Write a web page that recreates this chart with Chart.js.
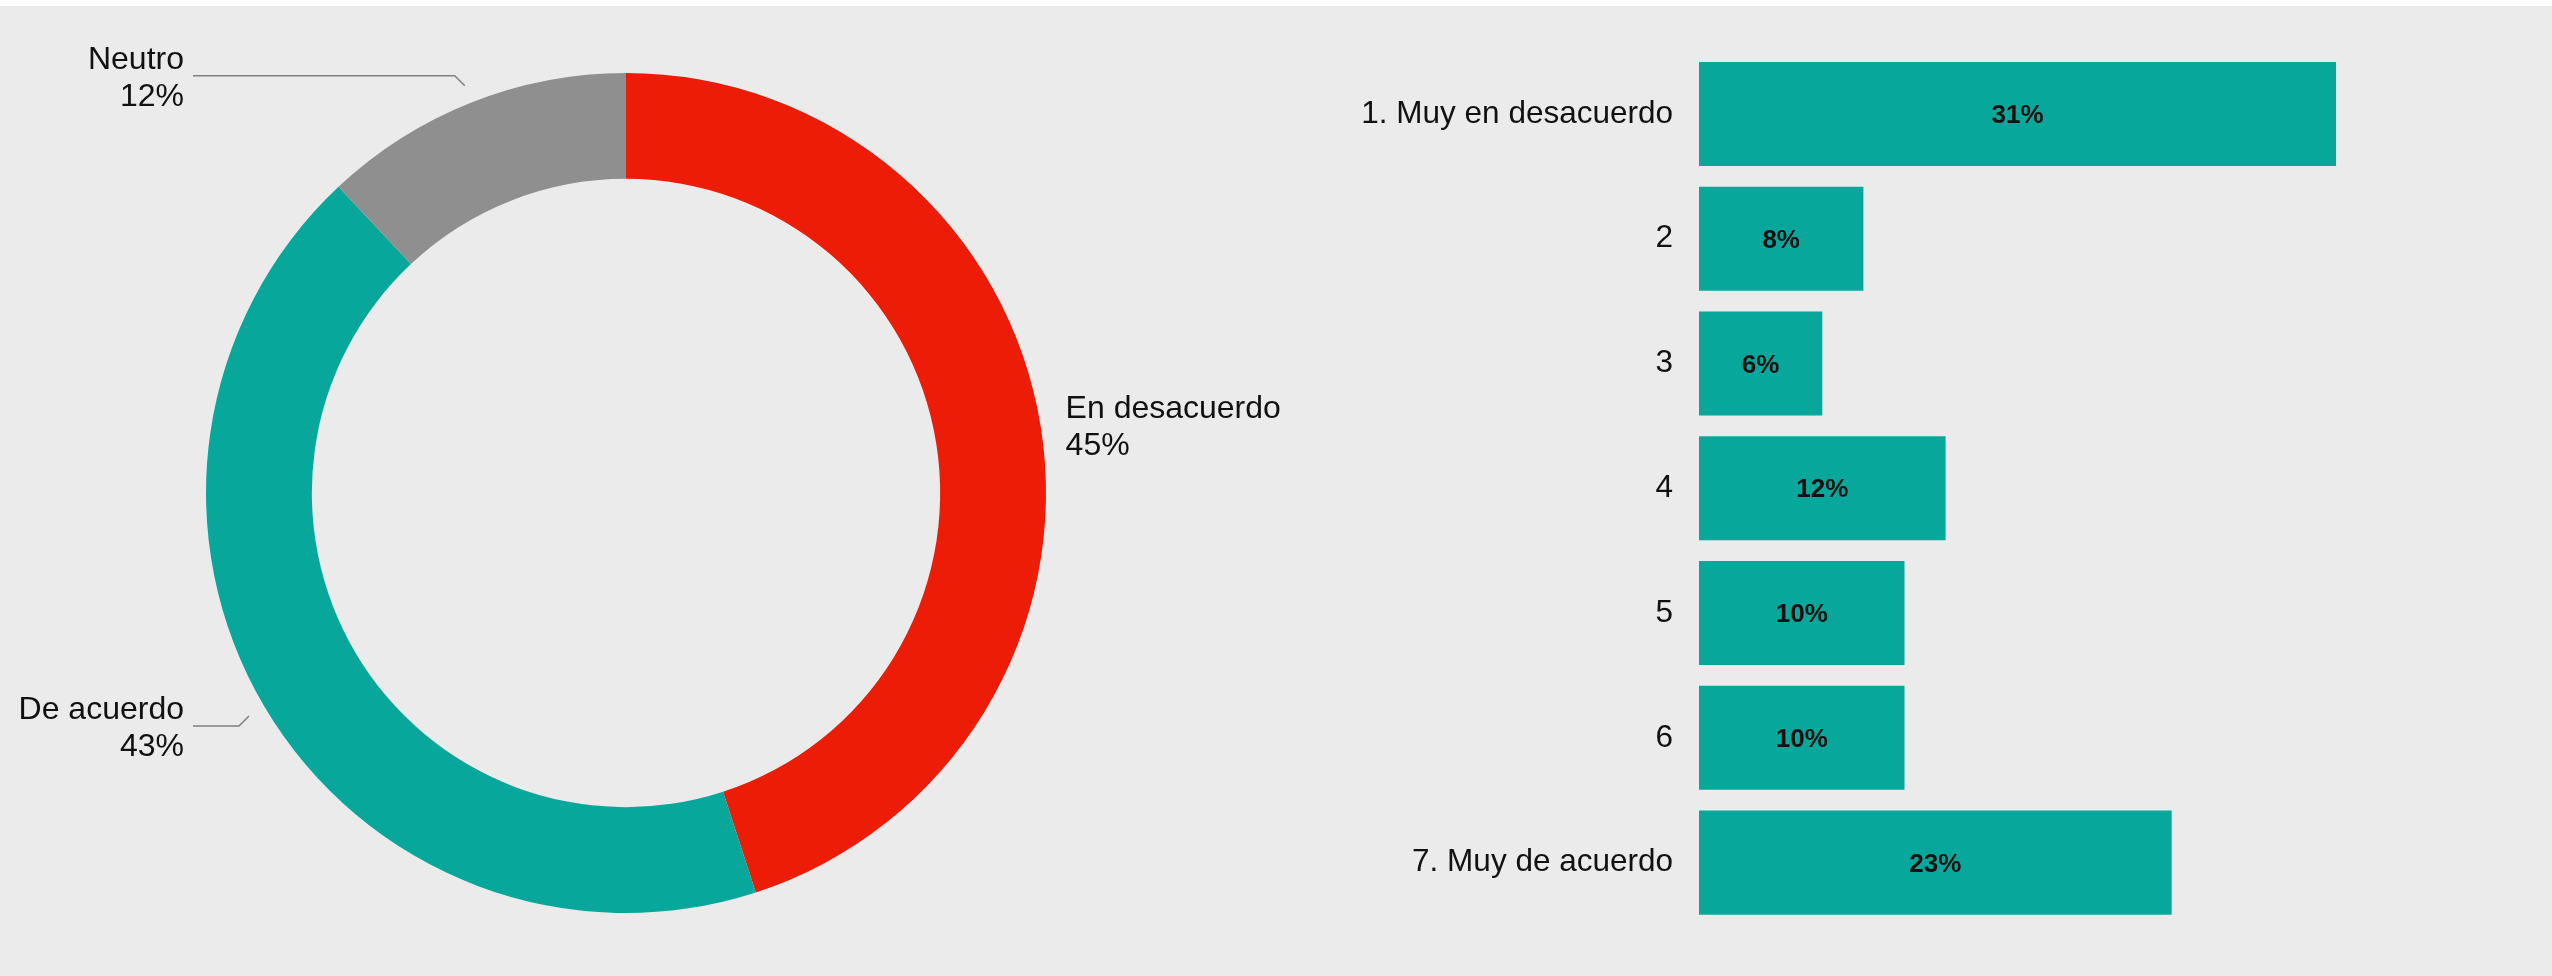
<!DOCTYPE html>
<html lang="es">
<head>
<meta charset="utf-8">
<title>Opinión</title>
<script src="https://cdn.jsdelivr.net/npm/chart.js@4.4.1/dist/chart.umd.min.js"></script>
<style>
  html, body { margin: 0; padding: 0; background: #ffffff; }
  body { width: 2552px; height: 976px; position: relative; overflow: hidden; }
  #panel { position: absolute; left: 0; top: 6px; width: 2552px; height: 970px; background: #ebebeb; }
  canvas { position: absolute; top: 0; }
  #donut { left: 0; }
  #bars { left: 1300px; }
</style>
</head>
<body>
<div id="panel"></div>
<canvas id="donut" width="1300" height="976"></canvas>
<canvas id="bars" width="1252" height="976"></canvas>
<script>
// Summary split (doughnut)
const groupLabels = ['En desacuerdo', 'De acuerdo', 'Neutro'];
const groupValues = [45, 43, 12];
const groupColors = ['#ec1c07', '#07a89b', '#8f8f8f'];

// Full 7-point scale (horizontal bars)
const scaleLabels = ['1. Muy en desacuerdo', '2', '3', '4', '5', '6', '7. Muy de acuerdo'];
const scaleValues = [31, 8, 6, 12, 10, 10, 23];
const barColor = '#07a89b';

const FONT = "'Liberation Sans', Arial, Helvetica, sans-serif";
const TEXT = '#111111';

// Slice labels with elbow leader lines on the left side
const sliceLabels = {
  id: 'sliceLabels',
  afterDatasetsDraw(chart) {
    const ctx = chart.ctx;
    const meta = chart.getDatasetMeta(0);
    const values = chart.data.datasets[0].data;
    const area = chart.chartArea;
    ctx.save();
    ctx.font = '32px ' + FONT;
    ctx.fillStyle = TEXT;
    ctx.textBaseline = 'middle';
    meta.data.forEach((arc, i) => {
      const p = arc.getProps(['x', 'y', 'startAngle', 'endAngle', 'outerRadius'], true);
      const mid = (p.startAngle + p.endAngle) / 2;
      const r = p.outerRadius + 18;
      const sx = p.x + Math.cos(mid) * r;
      const sy = p.y + Math.sin(mid) * r;
      const lines = [chart.data.labels[i], values[i] + '%'];
      if (Math.cos(mid) >= 0) {
        ctx.textAlign = 'left';
        ctx.fillText(lines[0], sx + 7, sy - 15.5);
        ctx.fillText(lines[1], sx + 7, sy + 21.5);
      } else {
        const ey = sy + (Math.sin(mid) < 0 ? -10 : 10);
        const ex = sx - 10;
        const endX = area.left - 13;
        ctx.strokeStyle = '#808080';
        ctx.lineWidth = 1.5;
        ctx.beginPath();
        ctx.moveTo(sx, sy);
        ctx.lineTo(ex, ey);
        ctx.lineTo(endX, ey);
        ctx.stroke();
        ctx.textAlign = 'right';
        ctx.fillText(lines[0], endX - 9, ey - 15.5);
        ctx.fillText(lines[1], endX - 9, ey + 21.5);
      }
    });
    ctx.restore();
  }
};

new Chart(document.getElementById('donut'), {
  type: 'doughnut',
  data: {
    labels: groupLabels,
    datasets: [{
      data: groupValues,
      backgroundColor: groupColors,
      borderWidth: 0,
      hoverOffset: 0
    }]
  },
  options: {
    responsive: false,
    animation: false,
    devicePixelRatio: 1,
    cutout: '74.8%',
    layout: { padding: { left: 206, right: 254, top: 73, bottom: 63 } },
    plugins: { legend: { display: false }, tooltip: { enabled: false } }
  },
  plugins: [sliceLabels]
});

// Percentage printed in the middle of each bar
const barValueLabels = {
  id: 'barValueLabels',
  afterDatasetsDraw(chart) {
    const ctx = chart.ctx;
    const meta = chart.getDatasetMeta(0);
    const values = chart.data.datasets[0].data;
    ctx.save();
    ctx.font = 'bold 26px ' + FONT;
    ctx.fillStyle = TEXT;
    ctx.textAlign = 'center';
    ctx.textBaseline = 'middle';
    meta.data.forEach((bar, i) => {
      const p = bar.getProps(['x', 'y', 'base'], true);
      ctx.fillText(values[i] + '%', (p.x + p.base) / 2, p.y + 2);
    });
    ctx.restore();
  }
};

new Chart(document.getElementById('bars'), {
  type: 'bar',
  data: {
    labels: scaleLabels,
    datasets: [{
      data: scaleValues,
      backgroundColor: barColor,
      borderWidth: 0,
      barPercentage: 0.834,
      categoryPercentage: 1.0
    }]
  },
  options: {
    indexAxis: 'y',
    responsive: false,
    animation: false,
    devicePixelRatio: 1,
    layout: { padding: { top: 51.6, bottom: 51, right: 31, left: 0 } },
    scales: {
      x: {
        display: false,
        min: 0,
        max: 40
      },
      y: {
        afterFit(axis) { axis.width = 399; },
        grid: { display: false, drawTicks: false },
        border: { display: false },
        ticks: {
          padding: 26,
          color: TEXT,
          font: { family: FONT, size: 31.5 }
        }
      }
    },
    plugins: { legend: { display: false }, tooltip: { enabled: false } }
  },
  plugins: [barValueLabels]
});
</script>
</body>
</html>
